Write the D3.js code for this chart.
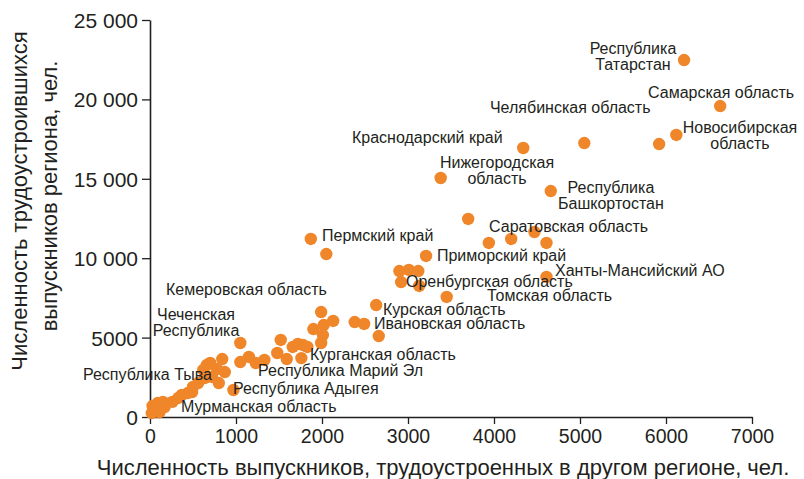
<!DOCTYPE html>
<html>
<head>
<meta charset="utf-8">
<script src="https://cdn.jsdelivr.net/npm/d3@7/dist/d3.min.js"></script>
<style>
  html, body { margin: 0; padding: 0; background: #ffffff; }
  svg { display: block; font-family: "Liberation Sans", Arial, sans-serif; }
</style>
</head>
<body>
<svg id="chart" width="804" height="479"></svg>
<script>
// ---- Data ----
// x: graduates employed in another region; y: graduates employed in home region
const xValues = [6210,6630,5050,5920,6120,4340,3380,4660,3700,3940,4200,4470,4610,4610,1870,2050,3210,2900,3010,3120,2920,3130,3450,2630,2380,2490,2660,1990,2130,2020,1900,2010,1990,1520,1660,1720,1780,1830,1480,1590,1760,1050,1150,1230,1330,1050,840,660,700,620,780,870,800,720,640,560,500,490,440,970,330,370,260,150,170,90,60,20,30,110];
const yValues = [22480,19580,17250,17190,17760,16940,15050,14230,12470,10960,11210,11650,10960,8820,11210,10260,10140,9190,9260,9190,8500,8250,7560,7050,5980,5860,5100,6610,6050,5790,5540,5160,4660,4850,4410,4600,4530,4410,4030,3650,3710,4660,3780,3400,3590,3460,3650,3270,3400,2960,3020,2830,2140,2520,2460,2140,1890,1570,1510,1700,1200,1390,950,950,630,880,440,250,700,300];

const xTicks = [0,1000,2000,3000,4000,5000,6000,7000];
const yTicks = [0,5000,10000,15000,20000,25000];
const yTickLabels = ["0","5000","10 000","15 000","20 000","25 000"];

const labelTexts = [
  ["Республика","Татарстан"],["Самарская область"],["Челябинская область"],
  ["Новосибирская","область"],["Краснодарский край"],["Нижегородская","область"],
  ["Республика","Башкортостан"],["Саратовская область"],["Пермский край"],
  ["Приморский край"],["Ханты-Мансийский АО"],["Оренбургская область"],
  ["Томская область"],["Курская область"],["Ивановская область"],
  ["Кемеровская область"],["Чеченская","Республика"],["Курганская область"],
  ["Республика Марий Эл"],["Республика Тыва"],["Республика Адыгея"],["Мурманская область"]
];
const labelX = [5616,5791,3953,6860,2349,4035,5360,3942,2000,3337,4709,2977,3919,2709,2605,186,535,1860,1256,-779,965,360];
const labelY = [22858,20087,19143,17883,17254,15680,14106,11650,11083,9823,8879,8186,7305,6423,5541,7682,6108,3589,2582,2330,1448,315];
const labelAnchor = ["middle","start","start","middle","start","middle","middle","start","start","start","start","start","start","start","start","start","middle","start","start","start","start","start"];

const xTitle = "Численность выпускников, трудоустроенных в другом регионе, чел.";
const yTitle = ["Численность трудоустроившихся","выпускников региона, чел."];

// ---- Layout ----
const svg = d3.select("#chart");
const x = d3.scaleLinear().domain([0,7000]).range([150,752]);
const y = d3.scaleLinear().domain([0,25000]).range([417,20]);
const ink = "#231f20";
const dotColor = "#f0862a";

// axes
const xAxis = d3.axisBottom(x).tickValues(xTicks).tickFormat(d => String(d)).tickSize(7).tickSizeOuter(0).tickPadding(5);
const yAxis = d3.axisLeft(y).tickValues(yTicks)
  .tickFormat((d,i) => yTickLabels[i])
  .tickSize(8).tickSizeOuter(0).tickPadding(4);

const gx = svg.append("g").attr("transform","translate(0,417)").call(xAxis);
const gy = svg.append("g").attr("transform","translate(150,0)").call(yAxis);
[gx, gy].forEach(g => {
  g.select(".domain").attr("stroke", ink).attr("stroke-width", 1.6);
  g.selectAll(".tick line").attr("stroke", ink).attr("stroke-width", 1.3);
  g.selectAll(".tick text").attr("fill", ink).style("font-family","'Liberation Sans', Arial, sans-serif");
});
gx.selectAll(".tick text").style("font-size","19.5px");
gy.selectAll(".tick text").attr("dy","0.36em").style("font-size","21px");

// dots
svg.append("g").selectAll("circle")
  .data(xValues.map((v,i) => [v, yValues[i]]))
  .join("circle")
  .attr("cx", d => x(d[0]))
  .attr("cy", d => y(d[1]))
  .attr("r", 6.2)
  .attr("fill", dotColor);

// labels
const lg = svg.append("g").attr("fill", ink).style("font-size","16px");
labelTexts.forEach((lines, i) => {
  const t = lg.append("text")
    .attr("x", x(labelX[i]))
    .attr("y", y(labelY[i]))
    .attr("text-anchor", labelAnchor[i]);
  lines.forEach((ln, j) => {
    t.append("tspan").attr("x", x(labelX[i])).attr("dy", j === 0 ? 0 : 16).text(ln);
  });
});

// axis titles
svg.append("text").attr("x", 443).attr("y", 475).attr("text-anchor","middle")
  .attr("fill", ink).style("font-size","22px").text(xTitle);
svg.append("text").attr("transform","translate(27,201) rotate(-90)").attr("text-anchor","middle")
  .attr("fill", ink).style("font-size","22px").text(yTitle[0]);
svg.append("text").attr("transform","translate(57,196) rotate(-90)").attr("text-anchor","middle")
  .attr("fill", ink).style("font-size","22px").text(yTitle[1]);
</script>
</body>
</html>
